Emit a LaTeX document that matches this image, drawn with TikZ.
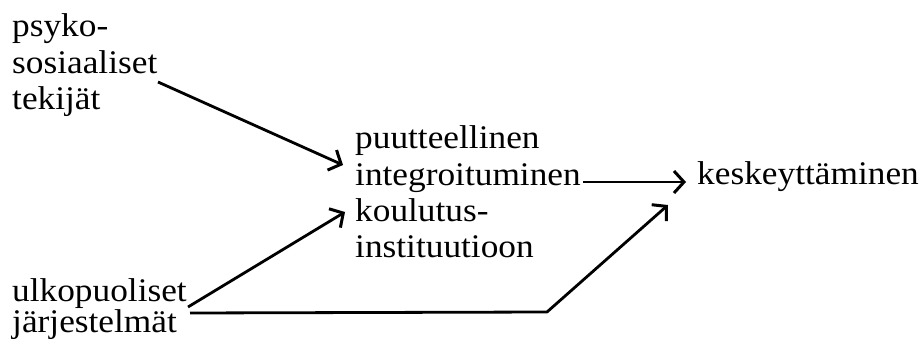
\documentclass[tikz,border=0pt]{standalone}
\usepackage{fontspec}
\setmainfont{Liberation Serif}[FakeStretch=1.07]
\usetikzlibrary{arrows.meta}
\begin{document}
\begin{tikzpicture}[x=1pt,y=-1pt,
  txt/.style={inner sep=0pt, anchor=base west, align=left,
    font=\fontsize{33}{36.5}\selectfont},
  conn/.style={line width=2.8pt, line join=round,
    -{Straight Barb[length=10pt,width=22pt,line width=3pt]}}]
\useasboundingbox (0,0) rectangle (919,342);

% factors on the left (anchored at the baseline of the last line)
\node[txt] (psy) at (12,110) {psyko-\\sosiaaliset\\tekijät};
\node[txt, font=\fontsize{33}{30.5}\selectfont] (ulko) at (12,332)
  {ulkopuoliset\\järjestelmät};

% middle and outcome
\node[txt] (integ) at (355,258)
  {puutteellinen\\integroituminen\\koulutus-\\instituutioon};
\node[txt] (kesk) at (697,185) {keskeyttäminen};

% connector end points
\coordinate (psyout)  at (158,82);
\coordinate (psyin)   at (343,165);
\coordinate (ulkoA)   at (188,307);
\coordinate (ulkoinA) at (345,212);
\coordinate (ulkoB)   at (190,313);
\coordinate (bend)    at (547,312);
\coordinate (keskinB) at (668,205);
\coordinate (integout) at (583,182);
\coordinate (keskin)  at (686,182);

\draw[conn] (psyout) -- (psyin);
\draw[conn] (ulkoA) -- (ulkoinA);
\draw[conn] (ulkoB) -- (bend) -- (keskinB);
\draw[conn] (integout) -- (keskin);
\end{tikzpicture}
\end{document}
